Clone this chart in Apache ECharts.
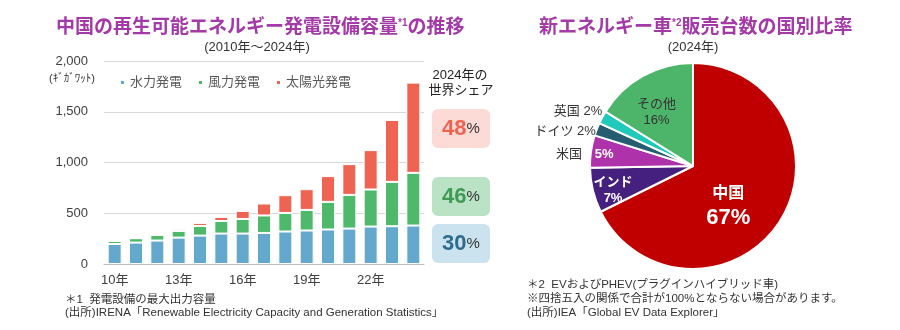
<!DOCTYPE html>
<html><head><meta charset="utf-8">
<script src="https://cdn.jsdelivr.net/npm/echarts@6/dist/echarts.min.js"></script>
<style>html,body{margin:0;padding:0;background:#fff}#c{width:900px;height:330px}</style>
</head><body><div id="c"></div>
<script>
// ---- data ----
const years = ['10年','11年','12年','13年','14年','15年','16年','17年','18年','19年','20年','21年','22年','23年','24年'];
const seriesNames = ['水力発電','風力発電','太陽光発電'];
const hydro = [197,211,231,260,280,300,300,306,320,330,340,349,369,372,379];
const wind  = [30,43,55,66,95,124,144,172,183,203,272,332,365,437,519];
const solar = [1,3,4,16,30,40,79,118,175,204,254,303,388,610,889];
const yTicks = [0,500,1000,1500,2000];
const worldShare = [48,46,30]; // solar, wind, hydro
const countries = ['中国','インド','米国','ドイツ','英国','その他'];
const evShare = [67,7,5,2,2,16];

// ---- styles ----
const FONT = "'Liberation Sans','Noto Sans CJK JP',sans-serif";
const PURPLE = '#a33aa8';
const cBlue = '#64a9cc', cGreen = '#4eb86b', cRed = '#ef6352';
const pieColors = {'中国':'#c00000','インド':'#46207f','米国':'#ae32aa','ドイツ':'#255e70','英国':'#1fcabb','その他':'#4db56a'};
const insideLabel = {
  '中国': {fmt:(n,v)=>`{a|${n}}\n{b|${v}%}`, padding:[24,22,0,0]},
  'インド': {fmt:(n,v)=>`{w|${n}}\n{w|${v}%}`, padding:[24,54,0,0]},
  '米国': {fmt:(n,v)=>`{w|${v}%}`, padding:[0,70,8,0]},
  'その他': {fmt:(n,v)=>`{d|${n}}\n{d|${v}%}`, padding:[0,20,12,0]}
};
const outsideLabel = {
  '米国': {fmt:(n,v)=>`{o|${n}}`, padding:[6,9,0,0]},
  'ドイツ': {fmt:(n,v)=>`{o|${n} ${v}%}`, padding:[5,1,0,0]},
  '英国': {fmt:(n,v)=>`{o|${n} ${v}%}`, padding:[0,0,12,0]}
};
const pieRich = {
  a:{fontSize:16,fontWeight:'bold',color:'#fff',lineHeight:22,fontFamily:FONT},
  b:{fontSize:22,fontWeight:'bold',color:'#fff',lineHeight:26,fontFamily:FONT},
  w:{fontSize:13,fontWeight:'bold',color:'#fff',lineHeight:16,fontFamily:FONT},
  d:{fontSize:13,color:'#333',lineHeight:16,fontFamily:FONT},
  o:{fontSize:13,color:'#333',lineHeight:16,fontFamily:FONT}
};

const pieInside = countries.map((n,i)=>{
  const cfg = insideLabel[n];
  return {name:n, value:evShare[i], itemStyle:{color:pieColors[n]},
    label: cfg ? {show:true, position:'inside', formatter:cfg.fmt(n,evShare[i]), padding:cfg.padding, rich:pieRich} : {show:false}};
});
const pieOutside = countries.map((n,i)=>{
  const cfg = outsideLabel[n];
  return {name:n, value:evShare[i],
    label: cfg ? {show:true, position:'outside', formatter:cfg.fmt(n,evShare[i]), padding:cfg.padding, rich:pieRich, distanceToLabelLine:0} : {show:false}};
});

const shareBoxes = [
  {fill:'#fcdad6', num:'#ef6352', y:109},
  {fill:'#b9e3c4', num:'#3e9a56', y:177},
  {fill:'#cbe2ef', num:'#2e6c8e', y:224}
];
const graphics = [];
shareBoxes.forEach((b,i)=>{
  graphics.push({type:'rect', shape:{x:432,y:b.y,width:58,height:39,r:6}, style:{fill:b.fill}, z:10});
  graphics.push({type:'text', x:461, y:b.y+20, z:11, style:{text:`{n|${worldShare[i]}}{p|%}`, align:'center', verticalAlign:'middle',
    rich:{n:{fontSize:22,fontWeight:'bold',fill:b.num,fontFamily:FONT}, p:{fontSize:15,fill:'#333',fontFamily:FONT}}}});
});
const txt = (text,x,y,size,opts={}) => ({type:'text', x, y, z:11, style:Object.assign({text, fontSize:size, fontFamily:FONT, fill:'#333', align:'left', verticalAlign:'middle'}, opts)});
graphics.push(
  {type:'text', x:56, y:28, z:11, style:{text:'中国の再生可能エネルギー発電設備容量{s|*1}の推移', fontSize:19, fontWeight:'bold', fontFamily:FONT, fill:PURPLE, verticalAlign:'middle',
    rich:{s:{fontSize:10,fontWeight:'bold',fill:PURPLE,verticalAlign:'top',fontFamily:FONT}}}},
  txt('(2010年～2024年)',257,47.5,13,{align:'center'}),
  txt('(ｷﾞｶﾞﾜｯﾄ)',72,79,11,{align:'center'}),
  txt('2024年の',460,75,13,{align:'center', fill:'#222'}),
  txt('世界シェア',461,90,13,{align:'center', fill:'#222'}),
  txt('＊1  発電設備の最大出力容量',65,300,11.5),
  txt('(出所)IRENA「Renewable Electricity Capacity and Generation Statistics」',65,313,11.5),
  {type:'text', x:539, y:27.5, z:11, style:{text:'新エネルギー車{s|*2}販売台数の国別比率', fontSize:19, fontWeight:'bold', fontFamily:FONT, fill:PURPLE, verticalAlign:'middle',
    rich:{s:{fontSize:10,fontWeight:'bold',fill:PURPLE,verticalAlign:'top',fontFamily:FONT}}}},
  txt('(2024年)',693,47.5,13,{align:'center'}),
  txt('＊2  EVおよびPHEV(プラグインハイブリッド車)',527,285,11.5),
  txt('※四捨五入の関係で合計が100%とならない場合があります。',527,299,11.5),
  txt('(出所)IEA「Global EV Data Explorer」',527,313,11.5)
);

const barItem = {borderColor:'#fff', borderWidth:1};
const option = {
  animation:false,
  textStyle:{fontFamily:FONT},
  grid:{left:104, right:476, top:61, bottom:66},
  legend:{left:114, top:71, icon:'rect', itemWidth:5, itemHeight:5, itemGap:15, data:seriesNames,
    textStyle:{fontSize:13, color:'#595959', fontFamily:FONT}},
  xAxis:{type:'category', data:years,
    axisLine:{lineStyle:{color:'#bfbfbf'}},
    axisTick:{interval:2, length:5, lineStyle:{color:'#bfbfbf'}},
    axisLabel:{interval:2, fontSize:13, color:'#404040', margin:10}},
  yAxis:{type:'value', min:yTicks[0], max:yTicks[yTicks.length-1], interval:yTicks[1]-yTicks[0],
    axisLine:{show:false}, axisTick:{show:false},
    splitLine:{lineStyle:{color:'#d9d9d9'}},
    axisLabel:{fontSize:13, color:'#404040', margin:16, formatter:v=>v.toLocaleString('en-US')}},
  series:[
    {name:seriesNames[0], type:'bar', stack:'a', barWidth:14, data:hydro, itemStyle:Object.assign({color:cBlue},barItem)},
    {name:seriesNames[1], type:'bar', stack:'a', barWidth:14, data:wind, itemStyle:Object.assign({color:cGreen},barItem)},
    {name:seriesNames[2], type:'bar', stack:'a', barWidth:14, data:solar, itemStyle:Object.assign({color:cRed},barItem)},
    {type:'pie', center:[693,166], radius:103, startAngle:90, clockwise:true, avoidLabelOverlap:false,
      itemStyle:{borderColor:'#fff', borderWidth:2}, labelLine:{show:false}, emphasis:{disabled:true},
      data:pieInside},
    {type:'pie', center:[693,166], radius:103, startAngle:90, clockwise:true, avoidLabelOverlap:false, silent:true,
      itemStyle:{color:'rgba(0,0,0,0)', borderWidth:0}, labelLine:{show:false, length:0, length2:0}, emphasis:{disabled:true},
      data:pieOutside}
  ],
  graphic:graphics
};
const chart = echarts.init(document.getElementById('c'), null, {renderer:'canvas'});
chart.setOption(option);
</script></body></html>
